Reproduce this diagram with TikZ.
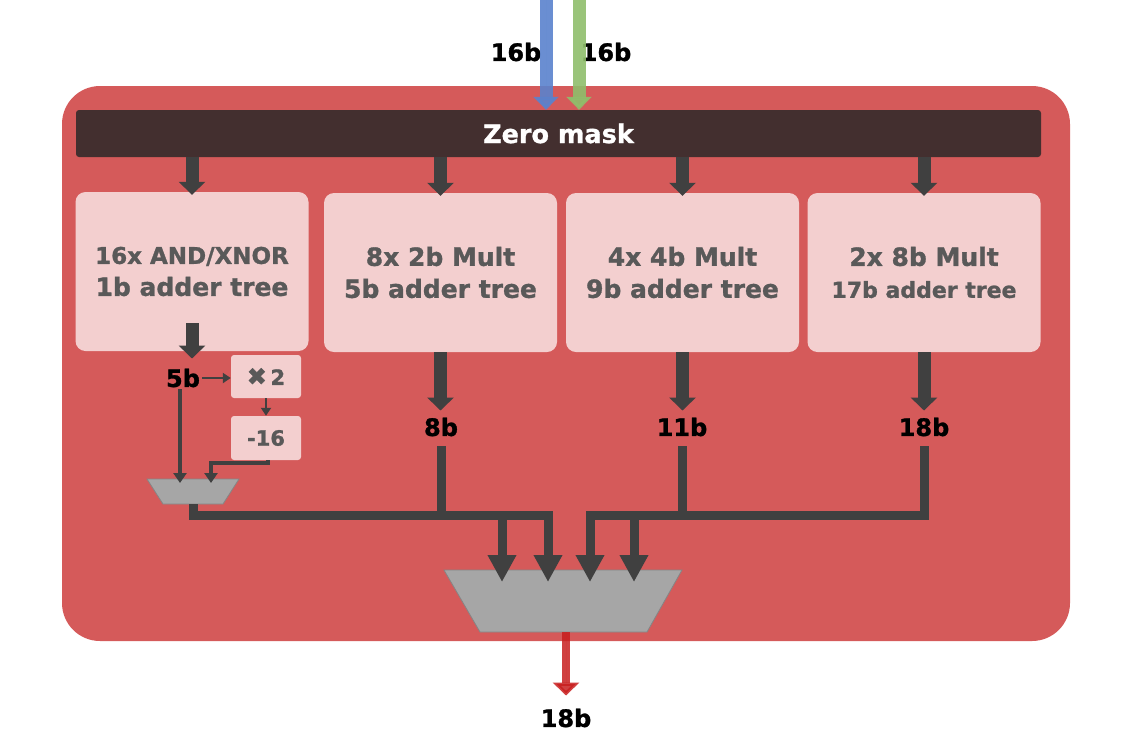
\documentclass[tikz,border=0pt]{standalone}
\usepackage{fontspec}
\setmainfont{DejaVu Sans}[BoldFeatures={FakeBold=1.2}]
\usetikzlibrary{arrows.meta,positioning}

\definecolor{chipred}{HTML}{D55A5A}
\definecolor{maskbrown}{HTML}{432F2F}
\definecolor{blkpink}{HTML}{F3CFCF}
\definecolor{arrgray}{HTML}{404040}
\definecolor{txtgray}{HTML}{595959}
\definecolor{muxgray}{HTML}{A6A6A6}
\definecolor{inblue}{HTML}{5A82CD}
\definecolor{ingreen}{HTML}{8FBE6B}
\definecolor{outred}{HTML}{C81E1E}

\tikzset{
  blk/.style={fill=blkpink, rounded corners=10pt, minimum width=233pt, minimum height=159pt,
    align=center, text=txtgray, font=\bfseries\fontsize{25}{32}\selectfont, inner sep=0pt},
  smallblk/.style={fill=blkpink, rounded corners=3pt, minimum width=70pt, minimum height=43pt,
    text=txtgray, font=\bfseries\fontsize{21}{24}\selectfont, inner sep=0pt},
  lbl/.style={font=\bfseries\fontsize{24}{28}\selectfont, inner sep=2pt},
  mux/.style={fill=muxgray, draw=muxgray!80!black, line width=0.8pt},
  bigarr/.style={draw=arrgray, line width=13pt, -{Triangle[width=26pt,length=13pt]}},
  busline/.style={draw=arrgray, line width=9pt},
  busarr/.style={busline, -{Triangle[width=27pt,length=27pt]}},
  medarr/.style={draw=arrgray, line width=4pt, -{Triangle[width=13pt,length=10pt]}},
  thinarr/.style={draw=arrgray, line width=2.5pt, -{Triangle[width=10pt,length=8pt]}},
  inarr/.style={line width=13pt, opacity=0.9, -{Triangle[width=25pt,length=13pt]}},
}

\begin{document}
\begin{tikzpicture}[x=1pt,y=1pt,yscale=-1]

\useasboundingbox (0,0) rectangle (1146,740);

\node[fill=chipred, rounded corners=38pt, minimum width=1008pt, minimum height=555pt] (chip) at (566,363.5) {};
\node[fill=maskbrown, rounded corners=3pt, minimum width=965pt, minimum height=47pt, text=white,
  font=\bfseries\fontsize{25.5}{30}\selectfont] (zm) at (558.5,133.5) {Zero mask};

\node[blk] (box1) at (192,271.5) {{\fontsize{23}{32}\selectfont 16x AND/XNOR}\\1b adder tree};
\node[blk] (box2) at (440.5,272.5) {8x 2b Mult\\5b adder tree};
\node[blk] (box3) at (682.5,272.5) {4x 4b Mult\\9b adder tree};
\node[blk] (box4) at (924,272.5) {2x 8b Mult\\{\fontsize{22}{32}\selectfont 17b adder tree}};

\node[smallblk] (x2) at (266,376.5) {{\fontsize{24}{24}\selectfont ✖}\,2};
\node[smallblk, minimum height=44pt] (m16) at (266,438) {-16};

% muxes
\draw[mux] (147,479) -- (239,479) -- (223,504) -- (163,504) -- cycle;
\draw[mux] (444,570) -- (682,570) -- (647,632) -- (480,632) -- cycle;
\coordinate (smux) at (193,504);
\coordinate (bmux) at (566,632);

\node[lbl] (in16a) at (516,52) {16b};
\node[lbl] (in16b) at (606,52) {16b};
\node[lbl] (l5) at (183,378) {5b};
\node[lbl] (l8) at (441,427) {8b};
\node[lbl] (l11) at (682,427) {11b};
\node[lbl] (l18) at (924,427) {18b};
\node[lbl] (lout) at (566,718) {18b};

\coordinate (srcA) at (546,0);
\coordinate (srcB) at (579,0);
\coordinate (sin1) at (180,483);
\coordinate (sin2) at (211,483);
\coordinate (jL) at (548,515);
\coordinate (jR) at (590,515);
\coordinate (in1) at (502,582);
\coordinate (in2) at (548,582);
\coordinate (in3) at (590,582);
\coordinate (in4) at (634,582);

% inputs
\draw[inarr, draw=inblue, fill=inblue] (srcA) -- (srcA |- zm.north);
\draw[inarr, draw=ingreen, fill=ingreen] (srcB) -- (srcB |- zm.north);

\draw[bigarr, shorten >=-3pt] (box1.north |- zm.south) -- (box1.north);
\draw[bigarr, shorten >=-3pt] (box2.north |- zm.south) -- (box2.north);
\draw[bigarr, shorten >=-3pt] (box3.north |- zm.south) -- (box3.north);
\draw[bigarr, shorten >=-3pt] (box4.north |- zm.south) -- (box4.north);

\draw[bigarr, shorten >=8pt] ([yshift=-28pt]box1.south) -- (box1.south |- l5.north);
\draw[bigarr, shorten >=5pt] (box2.south) -- (box2.south |- l8.north);
\draw[bigarr, shorten >=5pt] (box3.south) -- (box3.south |- l11.north);
\draw[bigarr, shorten >=5pt] (box4.south) -- (box4.south |- l18.north);

% 1b path
\draw[thinarr] (l5.east) -- (l5.east -| x2.west);
\draw[thinarr] (x2.south) -- (m16.north);
\draw[medarr] ([xshift=2pt]m16.south) -- ++(0,3) -| (sin2);
\draw[medarr] (l5.south -| sin1) -- (sin1);

% buses
\draw[busline, shorten <=8pt] (l8.south) -- (l8.south |- jL);
\draw[busline, shorten <=8pt] (l11.south) -- (l11.south |- jR);
\draw[busarr] (smux) |- (jL) -- (in2);
\draw[busarr] (in1 |- jL) -- (in1);
\draw[busarr, shorten <=8pt] (l18.south) |- (jR) -- (in3);
\draw[busarr] (in4 |- jR) -- (in4);

\draw[line width=8pt, draw=outred, fill=outred, opacity=0.85, -{Triangle[width=26pt,length=13pt]}, shorten >=11pt] (bmux) -- (lout.north);

\end{tikzpicture}
\end{document}
